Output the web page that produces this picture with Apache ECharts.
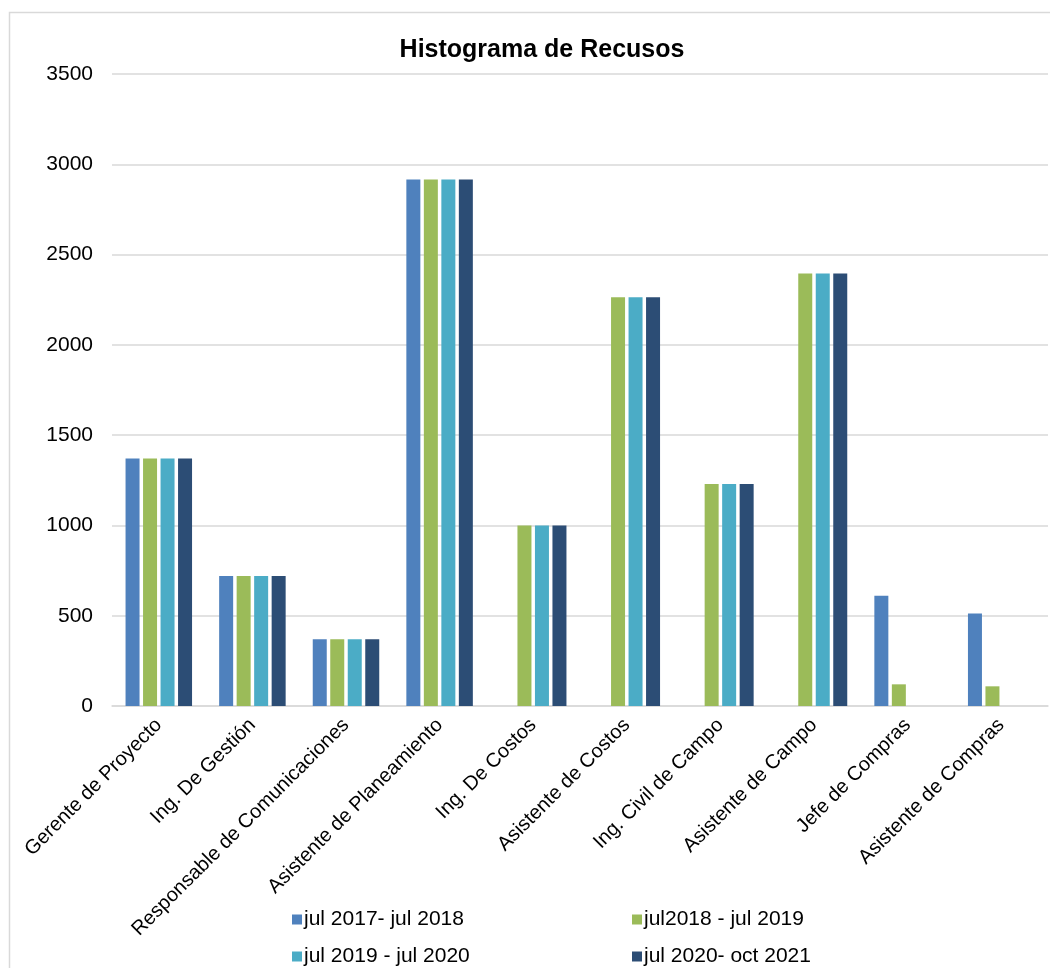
<!DOCTYPE html>
<html>
<head>
<meta charset="utf-8">
<script src="https://cdn.jsdelivr.net/npm/echarts@6/dist/echarts.min.js"></script>
<style>
  html, body { margin: 0; padding: 0; background: #fff; }
  #chart { width: 1050px; height: 968px; }
</style>
</head>
<body>
<div id="chart"></div>
<script>
// Roles (categories) and resource hours per period
const categories = [
  'Gerente de Proyecto', 'Ing. De Gestión', 'Responsable de Comunicaciones',
  'Asistente de Planeamiento', 'Ing. De Costos', 'Asistente de Costos',
  'Ing. Civil de Campo', 'Asistente de Campo', 'Jefe de Compras', 'Asistente de Compras'
];
const seriesNames = ['jul 2017- jul 2018', 'jul2018 - jul 2019', 'jul 2019 - jul 2020', 'jul 2020- oct 2021'];
const period1 = [1370, 720, 370, 2916, null, null, null, null, 611, 512];
const period2 = [1370, 720, 370, 2916, 1000, 2263, 1230, 2395, 120, 109];
const period3 = [1370, 720, 370, 2916, 1000, 2263, 1230, 2395, null, null];
const period4 = [1370, 720, 370, 2916, 1000, 2263, 1230, 2395, null, null];
const yTicks = [0, 500, 1000, 1500, 2000, 2500, 3000, 3500];

const colors = ['#4F81BD', '#9BBB59', '#4BACC6', '#2C4D75'];
const font = 'Liberation Sans, Arial, sans-serif';

const chart = echarts.init(document.getElementById('chart'), null, { renderer: 'canvas' });

const values = [period1, period2, period3, period4];
const series = values.map((data, i) => ({
  name: seriesNames[i],
  type: 'bar',
  data: data,
  barWidth: 14,
  barGap: '25%',
  itemStyle: { color: colors[i] }
}));

// Legend laid out as a 2x2 grid: one legend component per entry
const legendSlots = [
  { left: 287, top: 904 }, { left: 627, top: 904 },
  { left: 287, top: 941 }, { left: 627, top: 941 }
];
const legends = seriesNames.map((name, i) => ({
  data: [name],
  left: legendSlots[i].left,
  top: legendSlots[i].top,
  itemWidth: 10, itemHeight: 10,
  icon: 'rect',
  textStyle: { fontFamily: font, fontSize: 21, color: '#000', padding: [0, 0, 0, -3] }
}));

chart.setOption({
  animation: false,
  backgroundColor: '#fff',
  graphic: [{
    type: 'polyline',
    shape: { points: [[9.5, 980], [9.5, 12.5], [1060, 12.5]] },
    style: { stroke: '#d9d9d9', lineWidth: 1.5, fill: null },
    silent: true
  }],
  title: {
    text: 'Histograma de Recusos',
    left: 537,
    textAlign: 'center',
    top: 33,
    textStyle: { fontFamily: font, fontSize: 25, fontWeight: 'bold', color: '#000' }
  },
  legend: legends,
  grid: { left: 112, right: 2, top: 74, bottom: 262, containLabel: false },
  xAxis: {
    type: 'category',
    data: categories,
    axisTick: { show: false },
    axisLine: { lineStyle: { color: '#d9d9d9', width: 1.5 } },
    axisLabel: {
      interval: 0,
      rotate: 45,
      margin: 16,
      fontFamily: font,
      fontSize: 20,
      color: '#000'
    }
  },
  yAxis: {
    type: 'value',
    min: yTicks[0],
    max: yTicks[yTicks.length - 1],
    interval: 500,
    axisLine: { show: false },
    axisTick: { show: false },
    splitLine: { lineStyle: { color: '#d9d9d9', width: 1.5 } },
    axisLabel: {
      margin: 19,
      fontFamily: font,
      fontSize: 21,
      color: '#000',
      formatter: v => String(v)
    }
  },
  series: series
});
</script>
</body>
</html>
